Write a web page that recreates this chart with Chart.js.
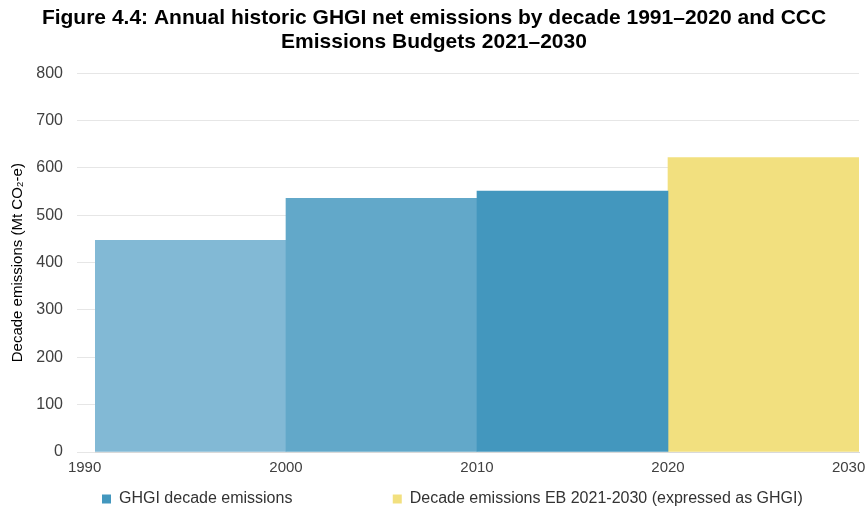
<!DOCTYPE html>
<html lang="en">
<head>
    <meta charset="UTF-8">
    <title>Figure 4.4 GHGI decade emissions</title>
    <script src="https://cdn.jsdelivr.net/npm/chart.js@4"></script>
    <style>
        html, body { margin: 0; padding: 0; background: #fff; }
        .chart-box { width: 868px; height: 506px; position: relative; }
    </style>
</head>
<body>
    <div class="chart-box">
        <canvas id="decadeChart"></canvas>
    </div>
    <script>
        // Decade data (start year of each decade, emissions in Mt CO2-e)
        const ghgiDecadeStart = [1990, 2000, 2010];
        const ghgiValues = [447, 536, 551];
        const budgetDecadeStart = [2020];
        const budgetValues = [622];
        const xTicks = [1990, 2000, 2010, 2020, 2030];
        const yTicks = [0, 100, 200, 300, 400, 500, 600, 700, 800];
        const seriesNames = ['GHGI decade emissions', 'Decade emissions EB 2021-2030 (expressed as GHGI)'];

        const ghgiColors = ['#82b9d5', '#62a8c9', '#4397be'];
        const budgetColor = '#f2e07f';
        const legendColors = ['#4397be', budgetColor];

        // bars sit in the middle of each decade, one decade wide
        const ghgiPoints = ghgiDecadeStart.map((d, i) => ({ x: d + 5, y: ghgiValues[i] }));
        const budgetPoints = budgetDecadeStart.map((d, i) => ({ x: d + 5, y: budgetValues[i] }));

        const nbsp = n => '\u00a0'.repeat(n);

        Chart.defaults.font.family = '"Liberation Sans", Arial, sans-serif';
        Chart.defaults.color = '#404040';

        const ctx = document.getElementById('decadeChart').getContext('2d');
        new Chart(ctx, {
            type: 'bar',
            data: {
                datasets: [{
                    label: seriesNames[0],
                    data: ghgiPoints,
                    backgroundColor: ghgiColors,
                    grouped: false,
                    barPercentage: 1,
                    categoryPercentage: 1,
                    borderWidth: 0
                }, {
                    label: seriesNames[1],
                    data: budgetPoints,
                    backgroundColor: budgetColor,
                    grouped: false,
                    barPercentage: 1,
                    categoryPercentage: 1,
                    borderWidth: 0
                }]
            },
            options: {
                responsive: true,
                maintainAspectRatio: false,
                animation: false,
                layout: { padding: { left: 0, right: 0, top: 6, bottom: -11 } },
                plugins: {
                    title: {
                        display: true,
                        text: ['Figure 4.4: Annual historic GHGI net emissions by decade 1991\u20132020 and CCC',
                               'Emissions Budgets 2021\u20132030'],
                        color: '#000',
                        font: { size: 21, weight: 'bold', lineHeight: 1.15 },
                        padding: { top: 0, bottom: 19 }
                    },
                    legend: {
                        position: 'bottom',
                        align: 'start',
                        fullSize: false,
                        labels: {
                            boxWidth: 9,
                            boxHeight: 9,
                            padding: 7,
                            font: { size: 16 },
                            generateLabels(chart) {
                                return chart.data.datasets.map((ds, i) => ({
                                    // first entry padded so the second sits further right
                                    text: i === 0 ? ds.label + nbsp(21) : ds.label,
                                    fillStyle: legendColors[i],
                                    strokeStyle: legendColors[i],
                                    lineWidth: 0,
                                    datasetIndex: i,
                                    fontColor: '#333'
                                }));
                            }
                        }
                    },
                    tooltip: { enabled: false }
                },
                scales: {
                    x: {
                        type: 'linear',
                        offset: false,
                        min: xTicks[0],
                        max: xTicks[xTicks.length - 1],
                        afterBuildTicks(scale) {
                            scale.ticks = xTicks.map(v => ({ value: v }));
                        },
                        afterFit(scale) {
                            scale.paddingRight = 9;
                        },
                        ticks: {
                            // end labels nudged left like the original
                            callback: (v, i, ticks) => (i === 0 || i === ticks.length - 1) ? String(v) + nbsp(5) : String(v),
                            font: { size: 15 },
                            color: '#404040',
                            maxRotation: 0,
                            padding: 7
                        },
                        grid: { display: false, drawTicks: false },
                        border: { display: true, color: '#d9d9d9' }
                    },
                    y: {
                        min: 0,
                        max: 800,
                        afterBuildTicks(scale) {
                            scale.ticks = yTicks.map(v => ({ value: v }));
                        },
                        afterFit(scale) {
                            scale.width = 95;
                        },
                        ticks: {
                            font: { size: 16 },
                            color: '#404040',
                            padding: 14
                        },
                        grid: {
                            color: '#e6e6e6',
                            tickLength: 18,
                            tickColor: '#e6e6e6'
                        },
                        border: { display: false },
                        title: {
                            display: true,
                            text: 'Decade emissions (Mt CO\u2082-e)',
                            font: { size: 15 },
                            color: '#000',
                            padding: { top: 9, bottom: 9 }
                        }
                    }
                }
            }
        });
    </script>
</body>
</html>
